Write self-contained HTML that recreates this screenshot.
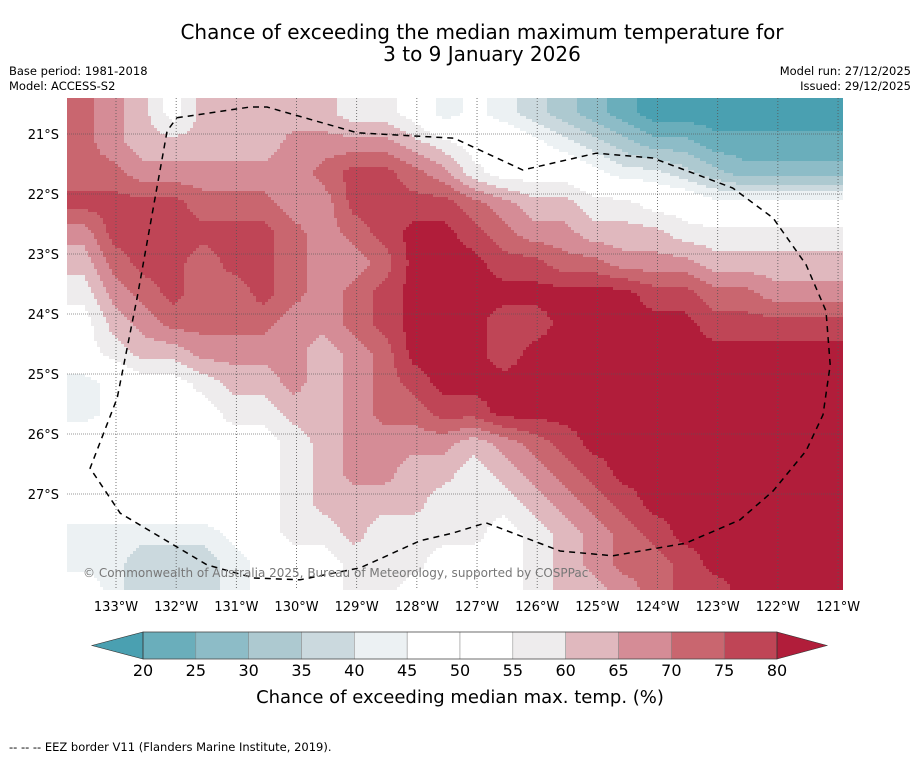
<!DOCTYPE html>
<html><head><meta charset="utf-8">
<style>
body{margin:0;background:#fff;width:919px;height:758px;overflow:hidden;font-family:"Liberation Sans","DejaVu Sans",sans-serif;}
svg{display:block}
text{font-family:"DejaVu Sans","Liberation Sans",sans-serif;}
</style></head>
<body>
<svg id="chart" width="919" height="758" viewBox="0 0 919 758" xmlns="http://www.w3.org/2000/svg">
  <text x="482" y="39" font-size="20" text-anchor="middle" fill="#000">Chance of exceeding the median maximum temperature for</text>
  <text x="482" y="61" font-size="20" text-anchor="middle" fill="#000">3 to 9 January 2026</text>
  <text x="9" y="75" font-size="11.5">Base period: 1981-2018</text>
  <text x="9" y="90" font-size="11.5">Model: ACCESS-S2</text>
  <text x="911" y="75" font-size="11.5" text-anchor="end">Model run: 27/12/2025</text>
  <text x="911" y="90" font-size="11.5" text-anchor="end">Issued: 29/12/2025</text>
  <defs><clipPath id="mapclip"><rect x="67" y="98" width="776" height="492"/></clipPath></defs>
  <g id="cells" clip-path="url(#mapclip)"></g>
  <g id="grid" clip-path="url(#mapclip)"></g>
  <path id="eez" fill="none" stroke="#000" stroke-width="1.5" stroke-dasharray="6,5" clip-path="url(#mapclip)"></path>
  <text x="83" y="577" font-size="12" fill="#777">© Commonwealth of Australia 2025, Bureau of Meteorology, supported by COSPPac</text>
  <g id="xticks"></g>
  <g id="yticks"></g>
  <g id="cbar"></g>
  <text x="460" y="703" font-size="18" text-anchor="middle">Chance of exceeding median max. temp. (%)</text>
  <text x="9" y="751" font-size="11.5">--  --  -- EEZ border V11 (Flanders Marine Institute, 2019).</text>
</svg>
<script>
// Data arrays
const lonTicks = [133,132,131,130,129,128,127,126,125,124,123,122,121];
const latTicks = [21,22,23,24,25,26,27];
const levels = [20,25,30,35,40,45,50,55,60,65,70,75,80];
const levelColors = ['#4aa0b1','#6aaebb','#8dbcc7','#adc9d0','#cbd9de','#ecf1f3','#ffffff','#ffffff','#eeeced','#e0b8be','#d58c96','#c9666f','#bf4556','#b11d3a'];
const gridLon0 = 133.8, gridLat0 = 20.4, gridStep = 0.5;
// Percent values (rows north->south, columns west->east)
const row00 = [72,67,62,52,62,62,62,62,62,57,57,52,42,47,42,37,32,27,22,17,17,17,17,17,17,17];
const row01 = [72,67,62,62,62,62,62,67,67,67,67,62,57,52,52,47,42,37,32,27,27,22,22,22,22,22];
const row02 = [72,72,67,67,67,67,67,67,72,77,77,72,67,57,52,52,52,47,42,42,37,32,27,27,27,27];
const row03 = [77,77,77,77,72,72,72,67,67,77,77,77,77,72,67,62,62,57,57,52,52,47,47,47,47,47];
const row04 = [67,77,77,77,77,77,77,72,67,72,77,82,82,77,72,67,67,62,62,62,57,57,57,57,57,57];
const row05 = [62,72,77,77,72,77,77,72,67,67,72,82,82,82,77,77,72,72,67,67,67,62,62,62,62,62];
const row06 = [57,67,72,77,72,72,77,72,67,72,77,82,82,82,82,82,82,82,82,77,77,72,72,67,67,67];
const row07 = [52,62,67,72,72,72,72,67,67,72,77,82,82,82,77,77,82,82,82,82,82,77,77,77,77,77];
const row08 = [52,57,62,62,67,67,67,67,62,67,72,82,82,82,77,82,82,82,82,82,82,82,82,82,82,82];
const row09 = [42,47,52,52,57,62,62,67,62,67,72,77,82,82,82,82,82,82,82,82,82,82,82,82,82,82];
const row10 = [42,47,52,52,52,57,57,62,62,67,72,72,77,77,82,82,82,82,82,82,82,82,82,82,82,82];
const row11 = [52,52,52,52,52,52,52,57,62,67,67,67,67,62,67,72,77,82,82,82,82,82,82,82,82,82];
const row12 = [52,52,52,52,52,52,52,57,62,67,67,62,62,57,62,67,72,77,82,82,82,82,82,82,82,82];
const row13 = [52,52,52,52,52,52,52,57,62,62,62,62,57,57,57,62,67,72,77,82,82,82,82,82,82,82];
const row14 = [42,42,42,42,42,47,52,57,57,62,57,57,57,57,52,57,62,67,72,77,82,82,82,82,82,82];
const row15 = [42,42,37,37,37,42,47,52,52,57,57,57,52,52,52,57,62,67,72,72,77,82,82,82,82,82];
const row16 = [52,42,37,37,37,42,47,52,52,57,57,52,52,52,52,57,62,62,67,72,77,77,82,82,82,82];
const rows = [row00,row01,row02,row03,row04,row05,row06,row07,row08,row09,row10,row11,row12,row13,row14,row15,row16];
// EEZ boundary (lon W, lat S)
const eezLon = [131.99,130.77,130.49,128.99,127.38,126.24,125.02,124.08,122.75,122.08,121.53,121.2,121.13,121.25,121.53,122.08,122.63,123.53,124.74,125.62,126.85,127.4,127.95,128.94,129.94,130.71,131.49,132.93,133.43,132.98,132.65,132.15,131.99];
const eezLat = [20.73,20.55,20.55,20.98,21.07,21.6,21.32,21.4,21.9,22.4,23.18,23.95,24.85,25.68,26.28,26.95,27.43,27.82,28.03,27.95,27.48,27.65,27.78,28.23,28.43,28.4,28.18,27.32,26.57,25.4,23.73,20.95,20.73];

const NS='http://www.w3.org/2000/svg';
const xOf = lon => 116 + (133 - lon) * 60.17;
const yOf = lat => 134 + (lat - 21) * 60;
const lonOf = x => 133 - (x - 116) / 60.17;
const latOf = y => 21 + (y - 134) / 60;
function colorFor(v){ let i=0; while(i<levels.length && v>=levels[i]) i++; return levelColors[i]; }
function sample(lon, lat){
  const nr=rows.length, nc=rows[0].length;
  let fi=(gridLon0-lon)/gridStep-0.5, fj=(lat-gridLat0)/gridStep-0.5;
  fi=Math.max(0,Math.min(nc-1,fi)); fj=Math.max(0,Math.min(nr-1,fj));
  const i0=Math.min(nc-2,Math.floor(fi)), j0=Math.min(nr-2,Math.floor(fj));
  const tx=fi-i0, ty=fj-j0;
  const a=rows[j0][i0], b=rows[j0][i0+1], c=rows[j0+1][i0], d=rows[j0+1][i0+1];
  return (a*(1-tx)+b*tx)*(1-ty)+(c*(1-tx)+d*tx)*ty;
}

const cells=document.getElementById('cells');
const step=3;
function emitRun(x0,x1,y,col){
  const r=document.createElementNS(NS,'rect');
  r.setAttribute('x',x0); r.setAttribute('y',y);
  r.setAttribute('width',x1-x0+0.5); r.setAttribute('height',step+0.5);
  r.setAttribute('fill',col);
  
  
  cells.appendChild(r);
}
for(let y=98;y<590;y+=step){
  let runStart=67, runColor=null, x;
  for(x=67;x<843;x+=step){
    const col = colorFor(sample(lonOf(x+step/2), latOf(y+step/2)));
    if(col!==runColor){
      if(runColor!==null) emitRun(runStart,x,y,runColor);
      runStart=x; runColor=col;
    }
  }
  if(runColor!==null) emitRun(runStart,843,y,runColor);
}

const grid=document.getElementById('grid');
const xt=document.getElementById('xticks');
lonTicks.forEach(l=>{
  const x=xOf(l);
  const ln=document.createElementNS(NS,'line');
  ln.setAttribute('x1',x);ln.setAttribute('x2',x);ln.setAttribute('y1',98);ln.setAttribute('y2',590);
  ln.setAttribute('stroke','#555');ln.setAttribute('stroke-width','0.8');ln.setAttribute('stroke-dasharray','1,2');
  
  
  grid.appendChild(ln);
  const t=document.createElementNS(NS,'text');
  t.setAttribute('x',x);t.setAttribute('y',611);t.setAttribute('font-size','13');t.setAttribute('text-anchor','middle');
  t.textContent=l+'°W';
  
  
  xt.appendChild(t);
});
const yt=document.getElementById('yticks');
latTicks.forEach(l=>{
  const y=yOf(l);
  const ln=document.createElementNS(NS,'line');
  ln.setAttribute('x1',67);ln.setAttribute('x2',843);ln.setAttribute('y1',y);ln.setAttribute('y2',y);
  ln.setAttribute('stroke','#555');ln.setAttribute('stroke-width','0.8');ln.setAttribute('stroke-dasharray','1,1');ln.setAttribute('opacity','0.8');
  
  
  grid.appendChild(ln);
  const t=document.createElementNS(NS,'text');
  t.setAttribute('x',59);t.setAttribute('y',y+5);t.setAttribute('font-size','13');t.setAttribute('text-anchor','end');
  t.textContent=l+'°S';
  
  
  yt.appendChild(t);
});

document.getElementById('eez').setAttribute('d', eezLon.map((lo,k)=>(k?'L':'M')+xOf(lo).toFixed(1)+','+yOf(eezLat[k]).toFixed(1)).join(' '));

// Colorbar
const cb=document.getElementById('cbar');
const cbX0=143, cbX1=777, cbY0=632, cbY1=659;
const seg=(cbX1-cbX0)/(levels.length-1);
const cbPos = v => cbX0 + (v-levels[0])/(levels[levels.length-1]-levels[0])*(cbX1-cbX0);
for(let k=0;k<levels.length-1;k++){
  const r=document.createElementNS(NS,'rect');
  r.setAttribute('x',cbPos(levels[k]));r.setAttribute('y',cbY0);r.setAttribute('width',seg);r.setAttribute('height',cbY1-cbY0);
  r.setAttribute('fill',levelColors[k+1]);r.setAttribute('stroke','#888');r.setAttribute('stroke-width','0.5');
  
  
  cb.appendChild(r);
}
const lt=document.createElementNS(NS,'polygon');
lt.setAttribute('points',`${cbX0},${cbY0} ${cbX0},${cbY1} 92,${(cbY0+cbY1)/2}`);
lt.setAttribute('fill',levelColors[0]);lt.setAttribute('stroke','#333');lt.setAttribute('stroke-width','0.6');


cb.appendChild(lt);
const rt=document.createElementNS(NS,'polygon');
rt.setAttribute('points',`${cbX1},${cbY0} ${cbX1},${cbY1} 827,${(cbY0+cbY1)/2}`);
rt.setAttribute('fill',levelColors[levelColors.length-1]);rt.setAttribute('stroke','#333');rt.setAttribute('stroke-width','0.6');


cb.appendChild(rt);
const fr=document.createElementNS(NS,'rect');
fr.setAttribute('x',cbX0);fr.setAttribute('y',cbY0);fr.setAttribute('width',cbX1-cbX0);fr.setAttribute('height',cbY1-cbY0);
fr.setAttribute('fill','none');fr.setAttribute('stroke','#333');fr.setAttribute('stroke-width','0.6');


cb.appendChild(fr);
levels.forEach(v=>{
  const t=document.createElementNS(NS,'text');
  t.setAttribute('x',cbPos(v));t.setAttribute('y',676);t.setAttribute('font-size','16');t.setAttribute('text-anchor','middle');
  t.textContent=v;
  
  
  cb.appendChild(t);
});
</script>
</body></html>
